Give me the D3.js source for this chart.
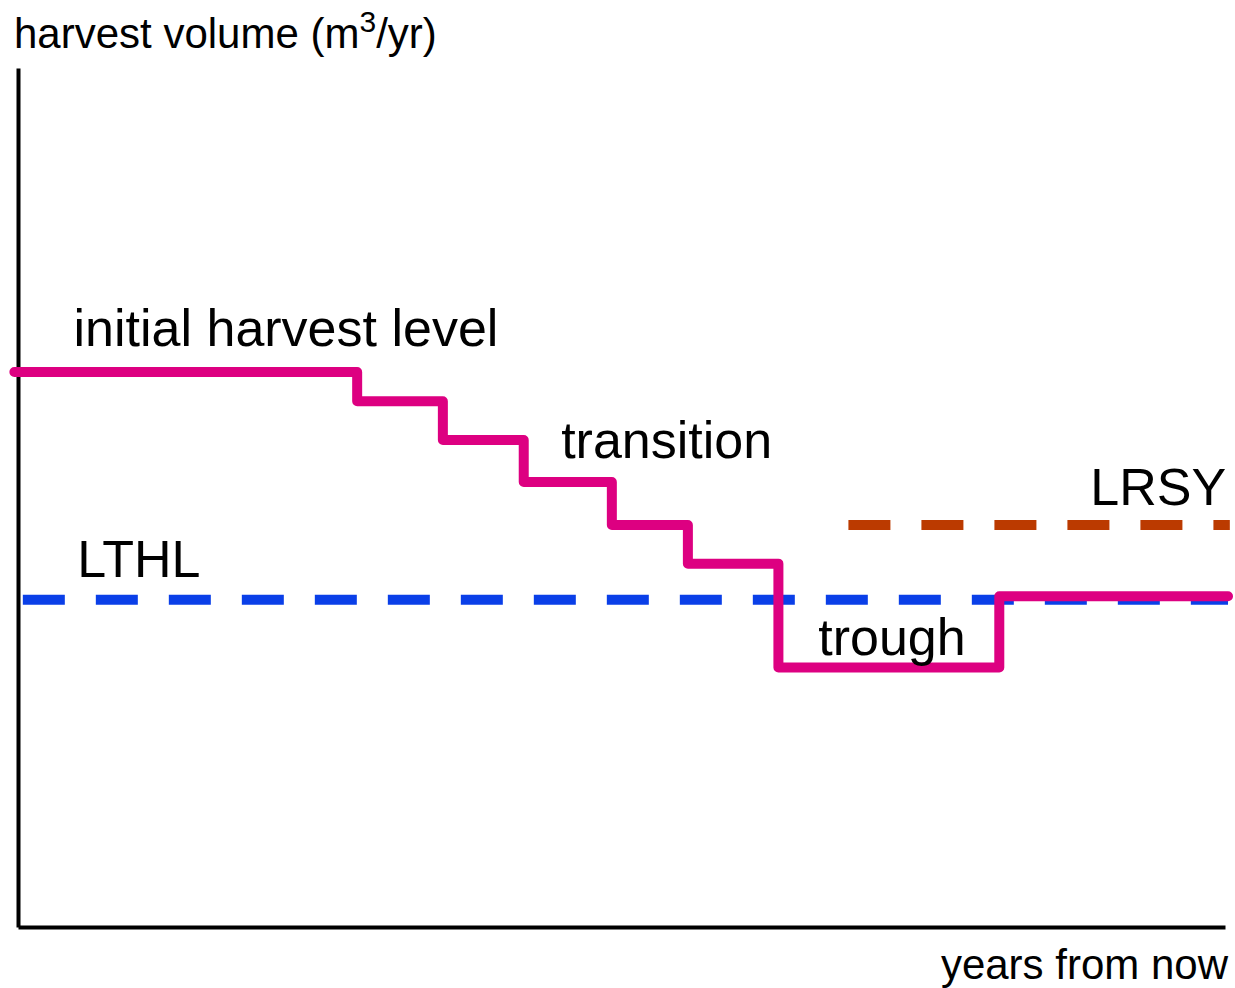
<!DOCTYPE html>
<meta charset="utf-8" />
<script src="https://d3js.org/d3.v7.min.js"></script>
<style>
    body { margin: 0; background: #fff; }
    text { font-family: 'Liberation Sans', Arial, sans-serif; fill: #000; }
</style>
<div id="chart"></div>
<script>
    // step harvest schedule (x = years, y = volume, arbitrary units)
    const stepYears = [-0.3, 28.1, 35.2, 41.9, 49.2, 55.5, 63.0, 81.3, 100.25]
    const stepLevels = [64.6, 61.2, 56.7, 51.8, 46.8, 42.3, 30.2, 38.5, 38.5]
    const lthl = { level: 38.1, from: 0.4, to: 100.25 }
    const lrsy = { level: 46.8, from: 68.8, to: 100.4 }
    const labels = [
        { text: 'initial harvest level', x: 4.6, y: 67.65, anchor: 'start' },
        { text: 'transition', x: 45.0, y: 54.6, anchor: 'start' },
        { text: 'LRSY', x: 100.1, y: 49.1, anchor: 'end' },
        { text: 'LTHL', x: 4.9, y: 40.7, anchor: 'start' },
        { text: 'trough', x: 66.3, y: 31.7, anchor: 'start' }
    ]

    const W = 1235, H = 988
    const svg = d3.select('#chart').append('svg').attr('width', W).attr('height', H)

    const x = d3.scaleLinear().domain([0, 100]).range([18, 1225])
    const y = d3.scaleLinear().domain([0, 100]).range([927, 68])

    // axes without ticks
    svg.append('g')
        .attr('transform', `translate(${x(0)},0)`)
        .call(d3.axisLeft(y).tickValues([]).tickSizeOuter(0))
        .select('.domain').attr('stroke', '#000').attr('stroke-width', 4)
    svg.append('g')
        .attr('transform', `translate(0,${y(0)})`)
        .call(d3.axisBottom(x).tickValues([]).tickSizeOuter(0))
        .select('.domain').attr('stroke', '#000').attr('stroke-width', 4)

    // dashed reference lines
    const hline = (d) => d3.line()([[x(d.from), y(d.level)], [x(d.to), y(d.level)]])
    svg.append('path')
        .attr('d', hline(lrsy))
        .attr('stroke', '#bb3a00')
        .attr('stroke-width', 10)
        .attr('stroke-dasharray', '42,31')
        .attr('fill', 'none')
    svg.append('path')
        .attr('d', hline(lthl))
        .attr('stroke', '#0a3fe8')
        .attr('stroke-width', 10)
        .attr('stroke-dasharray', '42,31')
        .attr('fill', 'none')

    // harvest steps
    const steps = stepYears.map((d, i) => [d, stepLevels[i]])
    svg.append('path')
        .datum(steps)
        .attr('fill', 'none')
        .attr('stroke', '#dd0081')
        .attr('stroke-width', 10)
        .attr('stroke-linejoin', 'round')
        .attr('stroke-linecap', 'round')
        .attr('d', d3.line().curve(d3.curveStepAfter).x((d) => x(d[0])).y((d) => y(d[1])))

    // annotations
    svg.selectAll('.lbl')
        .data(labels)
        .join('text')
        .attr('class', 'lbl')
        .attr('x', (d) => x(d.x))
        .attr('y', (d) => y(d.y))
        .attr('text-anchor', (d) => d.anchor)
        .attr('font-size', '52px')
        .text((d) => d.text)

    // axis titles
    const yt = svg.append('text').attr('x', 14).attr('y', 48).attr('font-size', '42px')
    yt.append('tspan').text('harvest volume (m')
    yt.append('tspan').attr('font-size', '30px').attr('dy', -16).text('3')
    yt.append('tspan').attr('dy', 16).text('/yr)')

    svg.append('text')
        .attr('x', 1228)
        .attr('y', 979)
        .attr('text-anchor', 'end')
        .attr('font-size', '42px')
        .text('years from now')
</script>
